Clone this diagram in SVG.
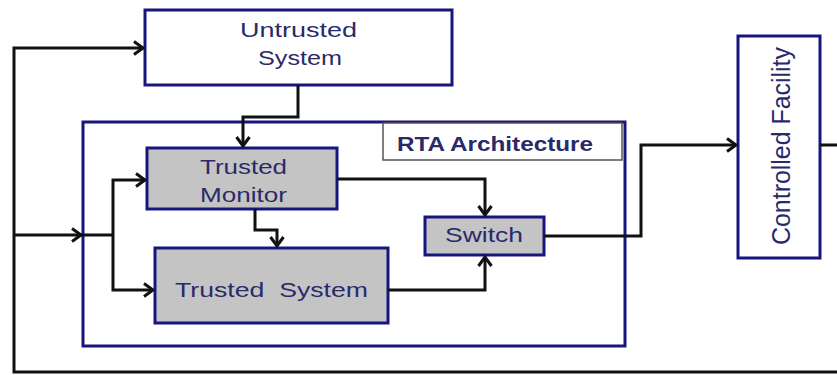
<svg xmlns="http://www.w3.org/2000/svg" width="837" height="375" viewBox="0 0 837 375">
<style>
.box{fill:#ffffff;stroke:#16167e;stroke-width:3}
.gbox{fill:#c4c4c4;stroke:#16167e;stroke-width:3}
.lbl{fill:#ffffff;stroke:#555555;stroke-width:1.5}
.t{font-family:"Liberation Sans",Arial,sans-serif;font-size:21px;fill:#2a2a6a}
.b{font-weight:bold}
.c{fill:none;stroke:#111111;stroke-width:3;stroke-linejoin:miter}
</style>
<defs>
<marker id="ah" markerUnits="userSpaceOnUse" markerWidth="14" markerHeight="16" refX="11" refY="8" orient="auto">
<path d="M2,1.5 L11,8 L2,14.5" fill="none" stroke="#111111" stroke-width="3"/>
</marker>
</defs>
<rect width="837" height="375" fill="#ffffff"/>
<g id="rta">
<rect class="box" x="83" y="122" width="542" height="224"/>
<rect class="lbl" x="383" y="123" width="239" height="37"/>
<text class="t b" x="397" y="151" textLength="196" lengthAdjust="spacingAndGlyphs">RTA Architecture</text>
</g>
<g id="untrusted">
<rect class="box" x="145" y="10" width="307" height="75"/>
<text class="t" x="240" y="37" textLength="117" lengthAdjust="spacingAndGlyphs">Untrusted</text>
<text class="t" x="258" y="65" textLength="84" lengthAdjust="spacingAndGlyphs">System</text>
</g>
<g id="monitor">
<rect class="gbox" x="147" y="148" width="190" height="61"/>
<text class="t" x="200" y="174" textLength="87" lengthAdjust="spacingAndGlyphs">Trusted</text>
<text class="t" x="200" y="202" textLength="87" lengthAdjust="spacingAndGlyphs">Monitor</text>
</g>
<g id="trusted-system">
<rect class="gbox" x="155" y="248" width="233" height="75"/>
<text class="t" x="175" y="297" textLength="193" lengthAdjust="spacingAndGlyphs" xml:space="preserve">Trusted  System</text>
</g>
<g id="switch">
<rect class="gbox" x="425" y="217" width="119" height="38"/>
<text class="t" x="445" y="242" textLength="78" lengthAdjust="spacingAndGlyphs">Switch</text>
</g>
<g id="facility">
<rect class="box" x="738" y="36" width="82" height="222"/>
<text class="t" transform="translate(790,245) scale(1.2,1) rotate(-90)" x="0" y="0" textLength="198" lengthAdjust="spacingAndGlyphs">Controlled Facility</text>
</g>
<g id="connectors">
<path class="c" d="M820,145 H845 V372 H14 V48 H143" marker-end="url(#ah)"/>
<path class="c" d="M14,235 H81" marker-end="url(#ah)"/>
<path class="c" d="M81,235 H113"/>
<path class="c" d="M113,235 V180 H145" marker-end="url(#ah)"/>
<path class="c" d="M113,235 V290 H153" marker-end="url(#ah)"/>
<path class="c" d="M298,85 V117 H243 V146" marker-end="url(#ah)"/>
<path class="c" d="M255,209 V230 H277 V246" marker-end="url(#ah)"/>
<path class="c" d="M337,179 H485 V215" marker-end="url(#ah)"/>
<path class="c" d="M388,290 H485 V257" marker-end="url(#ah)"/>
<path class="c" d="M544,236 H641 V145 H736" marker-end="url(#ah)"/>
</g>
</svg>
